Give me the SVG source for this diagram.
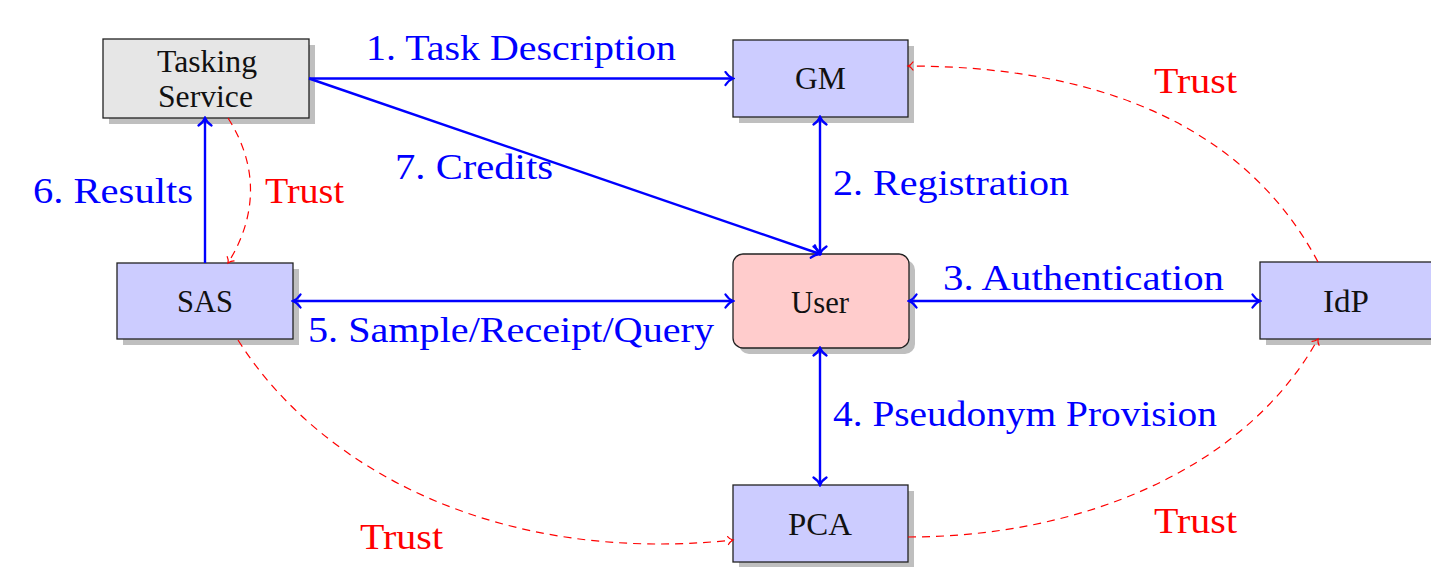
<svg xmlns="http://www.w3.org/2000/svg" width="1431" height="567" viewBox="0 0 1431 567">
  <defs>
    <marker id="arrow-blue" viewBox="-10 -8 12 16" markerWidth="12" markerHeight="16" refX="0" refY="0" orient="auto-start-reverse" markerUnits="userSpaceOnUse">
      <path d="M-7.5,-6.5 C-5,-2.6 -2,-0.8 0,0 C-2,0.8 -5,2.6 -7.5,6.5" fill="none" stroke="#0000ff" stroke-width="2.3" stroke-linecap="round"/>
    </marker>
    <marker id="arrow-red" viewBox="-7 -6 9 12" markerWidth="9" markerHeight="12" refX="0" refY="0" orient="auto" markerUnits="userSpaceOnUse">
      <path d="M-5,-4 C-3.5,-1.6 -1.2,-0.5 0,0 C-1.2,0.5 -3.5,1.6 -5,4" fill="none" stroke="#ff0000" stroke-width="1.2" stroke-linecap="round"/>
    </marker>
  </defs>
  <style>
    .shadow { fill: #bfbfbf; }
    .box { stroke: #222; stroke-width: 1.3; }
    .blue-box { fill: #ccccff; }
    .gray-box { fill: #e6e6e6; }
    .user-box { fill: #ffcccc; }
    .node-label { font-family: "Liberation Serif", "Times New Roman", serif; font-size: 31px; fill: #111; text-anchor: middle; }
    .flow { stroke: #0000ff; stroke-width: 2.4; fill: none; }
    .trust { stroke: #ff0000; stroke-width: 1.2; fill: none; stroke-dasharray: 8 6; marker-end: url(#arrow-red); }
    .flow-label { font-family: "Liberation Serif", "Times New Roman", serif; font-size: 36px; fill: #0000ff; text-anchor: middle; }
    .trust-label { font-family: "Liberation Serif", "Times New Roman", serif; font-size: 36px; fill: #ff0000; text-anchor: middle; }
  </style>

  <rect width="1431" height="567" fill="#ffffff"/>

  <!-- nodes -->
  <g id="tasking-service">
    <rect class="shadow" x="109" y="45" width="206" height="79"/>
    <rect class="box gray-box" x="103" y="39" width="206" height="79"/>
    <text class="node-label" x="207" y="72" textLength="100" lengthAdjust="spacingAndGlyphs">Tasking</text>
    <text class="node-label" x="205.5" y="107" textLength="95" lengthAdjust="spacingAndGlyphs">Service</text>
  </g>

  <g id="gm">
    <rect class="shadow" x="739" y="46" width="175" height="77"/>
    <rect class="box blue-box" x="733" y="40" width="175" height="77"/>
    <text class="node-label" x="820.5" y="89" textLength="51" lengthAdjust="spacingAndGlyphs">GM</text>
  </g>

  <g id="user">
    <rect class="shadow" x="739" y="260" width="176" height="94" rx="10"/>
    <rect class="box user-box" x="733" y="254" width="176" height="94" rx="10"/>
    <text class="node-label" x="820" y="313" textLength="58" lengthAdjust="spacingAndGlyphs">User</text>
  </g>

  <g id="sas">
    <rect class="shadow" x="123" y="269" width="176" height="76"/>
    <rect class="box blue-box" x="117" y="263" width="176" height="76"/>
    <text class="node-label" x="205" y="312" textLength="56" lengthAdjust="spacingAndGlyphs">SAS</text>
  </g>

  <g id="idp">
    <rect class="shadow" x="1266" y="268" width="176" height="77"/>
    <rect class="box blue-box" x="1260" y="262" width="176" height="77"/>
    <text class="node-label" x="1346" y="312" textLength="46" lengthAdjust="spacingAndGlyphs">IdP</text>
  </g>

  <g id="pca">
    <rect class="shadow" x="739" y="491" width="175" height="77"/>
    <rect class="box blue-box" x="733" y="485" width="175" height="77"/>
    <text class="node-label" x="820" y="535" textLength="64" lengthAdjust="spacingAndGlyphs">PCA</text>
  </g>

  <!-- connectors -->
  <g id="connectors">
    <!-- protocol flows -->
    <line class="flow" x1="309" y1="78.5" x2="733" y2="78.5" marker-end="url(#arrow-blue)"/>
    <line class="flow" x1="309" y1="78.5" x2="820" y2="254" marker-end="url(#arrow-blue)"/>
    <line class="flow" x1="820" y1="117" x2="820" y2="254" marker-start="url(#arrow-blue)" marker-end="url(#arrow-blue)"/>
    <line class="flow" x1="909" y1="301" x2="1260" y2="301" marker-start="url(#arrow-blue)" marker-end="url(#arrow-blue)"/>
    <line class="flow" x1="293" y1="301" x2="733" y2="301" marker-start="url(#arrow-blue)" marker-end="url(#arrow-blue)"/>
    <line class="flow" x1="820" y1="348" x2="820" y2="485" marker-start="url(#arrow-blue)" marker-end="url(#arrow-blue)"/>
    <line class="flow" x1="205" y1="263" x2="205" y2="118" marker-end="url(#arrow-blue)"/>

    <!-- trust relations -->
    <path class="trust" d="M228,118 C258,165 258,215 228,263"/>
    <path class="trust" d="M1318,262 C1240,115 1080,66 908,66"/>
    <path class="trust" d="M238,340 C320,470 500,565 733,540"/>
    <path class="trust" d="M908,537 C1080,537 1245,470 1318,339"/>

    <!-- labels -->
    <text class="flow-label" x="521" y="60" textLength="310" lengthAdjust="spacingAndGlyphs">1. Task Description</text>
    <text class="flow-label" x="474" y="179" textLength="158" lengthAdjust="spacingAndGlyphs">7. Credits</text>
    <text class="flow-label" x="113" y="203" textLength="160" lengthAdjust="spacingAndGlyphs">6. Results</text>
    <text class="flow-label" x="951" y="195" textLength="236" lengthAdjust="spacingAndGlyphs">2. Registration</text>
    <text class="flow-label" x="1083.5" y="290" textLength="281" lengthAdjust="spacingAndGlyphs">3. Authentication</text>
    <text class="flow-label" x="511" y="342" textLength="406" lengthAdjust="spacingAndGlyphs">5. Sample/Receipt/Query</text>
    <text class="flow-label" x="1025" y="426" textLength="384" lengthAdjust="spacingAndGlyphs">4. Pseudonym Provision</text>

    <text class="trust-label" x="304.5" y="203" textLength="79" lengthAdjust="spacingAndGlyphs">Trust</text>
    <text class="trust-label" x="1195.5" y="93" textLength="83" lengthAdjust="spacingAndGlyphs">Trust</text>
    <text class="trust-label" x="401.5" y="549" textLength="83" lengthAdjust="spacingAndGlyphs">Trust</text>
    <text class="trust-label" x="1195.5" y="533" textLength="83" lengthAdjust="spacingAndGlyphs">Trust</text>
  </g>
</svg>
